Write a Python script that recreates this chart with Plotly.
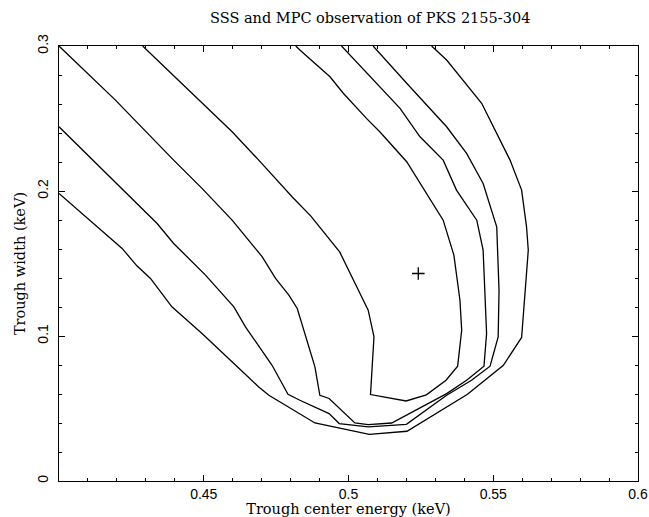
import plotly.graph_objects as go

# Contour levels (x: trough center energy keV, y: trough width keV)
c1_x = [0.4289, 0.4483, 0.4598, 0.4690, 0.4805, 0.4870, 0.4947, 0.4970, 0.5068, 0.5088, 0.5076,
        0.5199, 0.5269, 0.5337, 0.5377, 0.5391, 0.5385, 0.5364, 0.5327, 0.5201, 0.5108, 0.5062,
        0.4982, 0.4936, 0.4832, 0.4818]
c1_y = [0.3000, 0.2627, 0.2409, 0.2213, 0.1960, 0.1827, 0.1638, 0.1578, 0.1178, 0.0994, 0.0596,
        0.0552, 0.0594, 0.0695, 0.0792, 0.1040, 0.1247, 0.1558, 0.1799, 0.2202, 0.2409, 0.2501,
        0.2674, 0.2788, 0.2972, 0.3000]

c2_x = [0.4000, 0.4195, 0.4390, 0.4494, 0.4598, 0.4656, 0.4702, 0.4748, 0.4794, 0.4823, 0.4863,
        0.4884, 0.4901, 0.4933, 0.5022, 0.5068, 0.5149, 0.5339, 0.5408, 0.5468, 0.5477, 0.5465,
        0.5443, 0.5373, 0.5327, 0.5247, 0.5178, 0.5074, 0.4976]
c2_y = [0.3000, 0.2627, 0.2225, 0.2018, 0.1799, 0.1661, 0.1546, 0.1397, 0.1282, 0.1190, 0.0914,
        0.0787, 0.0591, 0.0569, 0.0400, 0.0389, 0.0400, 0.0603, 0.0695, 0.0792, 0.1017, 0.1592,
        0.1799, 0.2006, 0.2213, 0.2374, 0.2570, 0.2788, 0.3000]

c3_x = [0.4000, 0.4223, 0.4339, 0.4396, 0.4506, 0.4604, 0.4644, 0.4736, 0.4791, 0.4832, 0.4933,
        0.4968, 0.5068, 0.5200, 0.5339, 0.5425, 0.5489, 0.5517, 0.5520, 0.5512, 0.5465, 0.5408,
        0.5339, 0.5201, 0.5085]
c3_y = [0.2443, 0.2006, 0.1776, 0.1638, 0.1420, 0.1201, 0.1063, 0.0798, 0.0598, 0.0557, 0.0465,
        0.0396, 0.0373, 0.0391, 0.0591, 0.0695, 0.0792, 0.0994, 0.1316, 0.1753, 0.2052, 0.2259,
        0.2443, 0.2743, 0.3000]

c4_x = [0.4000, 0.4218, 0.4269, 0.4316, 0.4390, 0.4494, 0.4604, 0.4690, 0.4725, 0.4763, 0.4884,
        0.5072, 0.5202, 0.5411, 0.5535, 0.5598, 0.5621, 0.5615, 0.5598, 0.5558, 0.5500, 0.5460,
        0.5339, 0.5287]
c4_y = [0.1983, 0.1604, 0.1484, 0.1397, 0.1201, 0.1017, 0.0810, 0.0649, 0.0591, 0.0545, 0.0400,
        0.0322, 0.0343, 0.0598, 0.0798, 0.0990, 0.1592, 0.1753, 0.2006, 0.2213, 0.2443, 0.2605,
        0.2903, 0.3000]

best_x = [0.5241]
best_y = [0.1431]

x_tickvals = [0.45, 0.5, 0.55, 0.6]
x_ticktext = ["0.45", "0.5", "0.55", "0.6"]
y_tickvals = [0, 0.1, 0.2, 0.3]
y_ticktext = ["0", "0.1", "0.2", "0.3"]

title_text = "SSS and MPC observation of PKS 2155-304"
x_title = "Trough center energy (keV)"
y_title = "Trough width (keV)"

serif = "DejaVu Serif"
sans = "Liberation Sans, Arial, sans-serif"

fig = go.Figure()
for xs, ys in [(c1_x, c1_y), (c2_x, c2_y), (c3_x, c3_y), (c4_x, c4_y)]:
    fig.add_trace(go.Scatter(x=xs, y=ys, mode="lines",
                             line=dict(color="black", width=1.3),
                             showlegend=False, hoverinfo="skip"))
fig.add_trace(go.Scatter(x=best_x, y=best_y, mode="markers",
                         marker=dict(symbol="cross-thin", size=9,
                                     line=dict(color="black", width=1.3)),
                         showlegend=False, hoverinfo="skip"))

axis_common = dict(
    showgrid=False, zeroline=False, showline=True, linecolor="black", linewidth=1.3,
    mirror="allticks", ticks="inside", tickcolor="black", tickwidth=1, ticklen=6,
    tickfont=dict(family=sans, size=14, color="black"), automargin=False,
)

fig.update_xaxes(range=[0.4, 0.6], tickmode="array", tickvals=x_tickvals, ticktext=x_ticktext,
                 minor=dict(dtick=0.01, tick0=0.4, ticks="inside", ticklen=3,
                            tickcolor="black", tickwidth=1, showgrid=False),
                 title=dict(text=x_title, font=dict(family=serif, size=14.5, color="black"),
                            standoff=2),
                 **axis_common)
fig.update_yaxes(range=[0, 0.3], tickmode="array", tickvals=y_tickvals, ticktext=y_ticktext,
                 tickangle=-90, ticklabelstandoff=4,
                 minor=dict(dtick=0.02, tick0=0, ticks="inside", ticklen=3,
                            tickcolor="black", tickwidth=1, showgrid=False),
                 title=dict(text=y_title, font=dict(family=serif, size=14.5, color="black"),
                            standoff=6),
                 **axis_common)

fig.update_layout(
    width=649, height=517,
    margin=dict(l=59, r=11, t=46, b=36, pad=0),
    paper_bgcolor="white", plot_bgcolor="white",
    title=dict(text=title_text, x=0.5375, xanchor="center", xref="paper",
               y=1 - 18 / 517, yanchor="middle", yref="container",
               font=dict(family=serif, size=14.5, color="black")),
    hovermode=False,
)

fig.write_html("out.html", config={"displayModeBar": False})
